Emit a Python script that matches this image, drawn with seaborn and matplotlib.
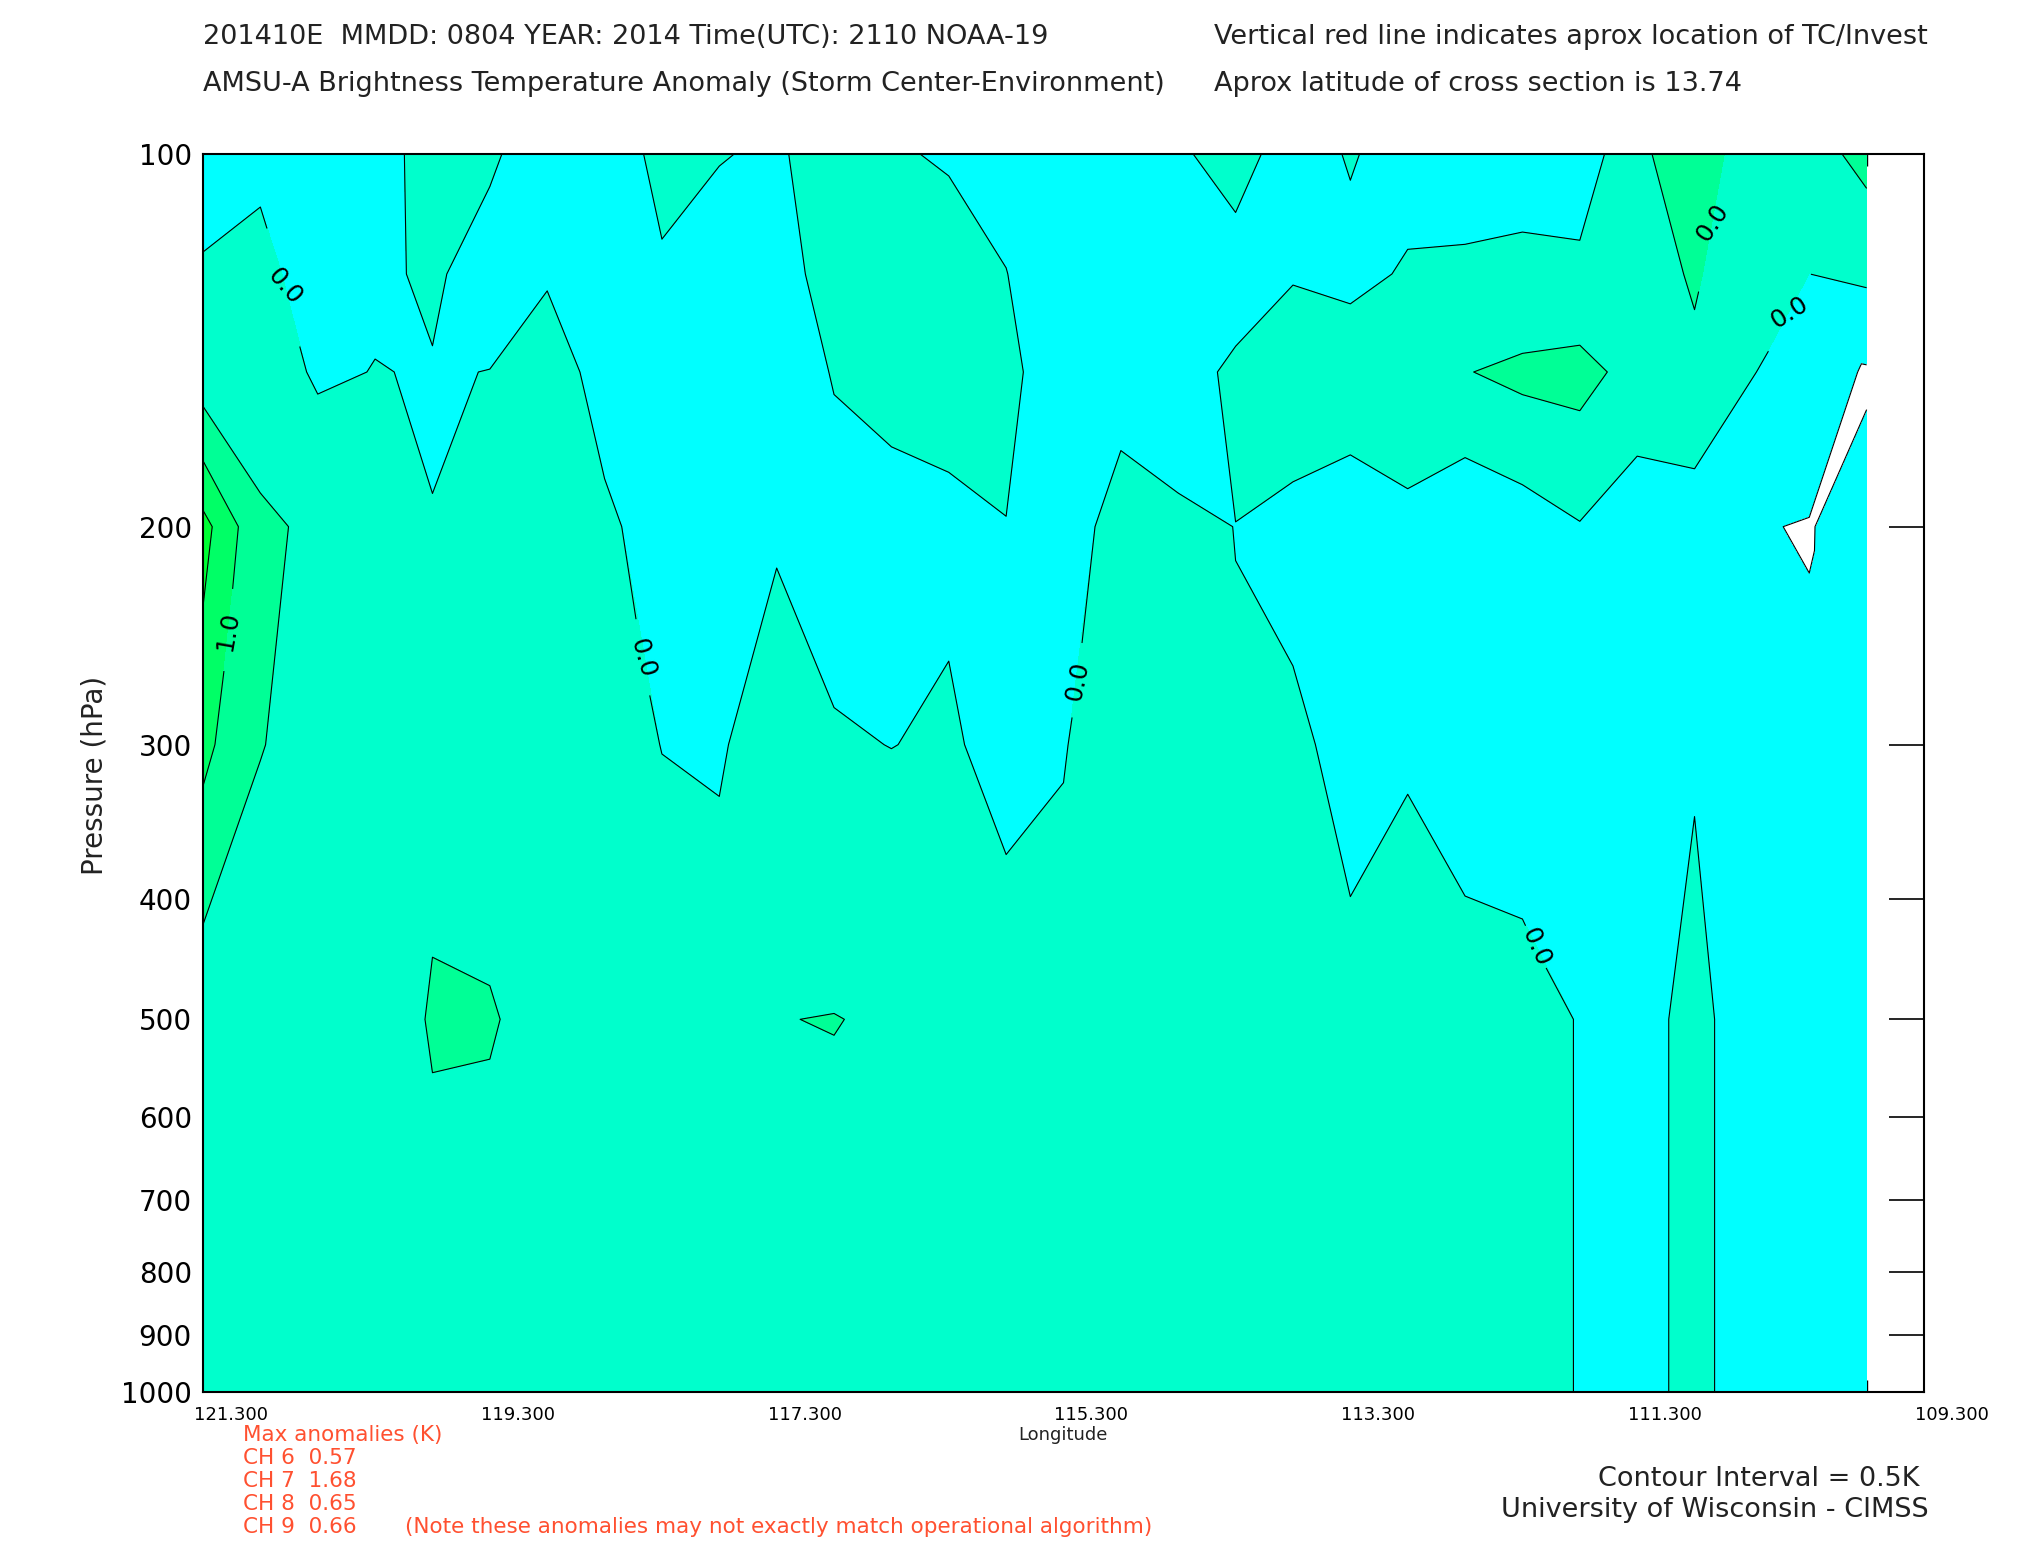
import numpy as np
import matplotlib
matplotlib.use("Agg")
import matplotlib.pyplot as plt
import matplotlib.tri as mtri
from matplotlib.ticker import FixedLocator, FixedFormatter, NullLocator
from matplotlib.transforms import ScaledTranslation
import seaborn as sns

# ---------------- data ----------------
lons = [121.3, 120.9, 120.5, 120.1, 119.7, 119.3, 118.9, 118.5, 118.1, 117.7,
        117.3, 116.9, 116.5, 116.1, 115.7, 115.3, 114.9, 114.5, 114.1, 113.7,
        113.3, 112.9, 112.5, 112.1, 111.7, 111.3, 110.9, 110.5, 110.1, 109.7]
plevs = [100, 125, 150, 200, 300, 500, 700, 1000]

anom_100 = [-0.14, -0.085, -0.15, -0.1, 0.096, 0.05, -0.188, -0.2, 0.094, 0.02,
            -0.057, 0.214, 0.02, -0.02, -0.1, -0.25, -0.2, -0.05, 0.142, -0.174,
            0.03, -0.157, -0.15, -0.1, -0.3, 0.395, 0.8, 0.223, 0.3, 0.65]
anom_125 = [0.035, 0.12, -0.2, -0.06, 0.05, -0.15, -0.02, -0.15, -0.043, -0.2,
            -0.15, 0.15, 0.2, 0.1, 0.006, -0.2, -0.2, -0.15, -0.167, -0.02,
            -0.12, 0.0453, 0.055, 0.06, 0.131, 0.3, 0.547, 0.21, -0.001, 0.082]
anom_150 = [0.21, 0.25, -0.06, 0.01, -0.02, 0.005, 0.105, -0.079, -0.15, -0.25,
            -0.2, 0.02, 0.06, 0.08, 0.06, -0.14, -0.11, -0.14, 0.065, 0.172,
            0.3, 0.2, 0.48, 0.613, 0.652, 0.335, 0.41, 0.0198, -0.23, -0.55]
anom_200 = [1.676, 0.58, 0.417, 0.2, 0.0063, 0.25, 0.25, 0.041, -0.096, -0.25,
            -0.05, -0.136, -0.074, -0.05, -0.005, -0.15, 0.123, 0.0447, -0.0024, -0.081,
            -0.3, -0.075, -0.447, -0.263, -0.027, -0.324, -0.283, -0.476, -0.52, -0.32]
anom_300 = [1.126, 0.52, 0.3, 0.28, 0.42, 0.22, 0.3, 0.25, -0.01, -0.05,
            0.2625, 0.034, -0.005, 0.038, -0.1, -0.03, 0.345, 0.3, 0.016, 0.056,
            -0.087, -0.05, -0.1, -0.27, -0.25, -0.2, -0.05, -0.3, -0.409, -0.3]
anom_500 = [0.076, 0.076, 0.25, 0.3, 0.53, 0.55, 0.272, 0.25, 0.37, 0.28,
            0.491, 0.513, 0.441, 0.4, 0.194, 0.243, 0.35, 0.35, 0.3, 0.3,
            0.0906, 0.295, 0.105, 0.2, -0.025, -0.224, 0.183, -0.34, -0.3, -0.3]
anom_700 = [0.15, 0.2, 0.2, 0.25, 0.415, 0.29, 0.25, 0.25, 0.3, 0.28,
            0.3, 0.34, 0.35, 0.35, 0.3, 0.3, 0.3, 0.3, 0.3, 0.3,
            0.15, 0.3, 0.2, 0.2, -0.025, -0.224, 0.183, -0.34, -0.3, -0.3]
anom_1000 = [0.15, 0.2, 0.2, 0.25, 0.4, 0.3, 0.25, 0.25, 0.3, 0.28,
             0.3, 0.35, 0.35, 0.35, 0.3, 0.3, 0.3, 0.3, 0.3, 0.3,
             0.15, 0.3, 0.2, 0.2, -0.025, -0.224, 0.183, -0.34, -0.3, -0.3]

ptick_vals = [100, 200, 300, 400, 500, 600, 700, 800, 900, 1000]
ptick_labels = ["100", "200", "300", "400", "500", "600", "700", "800", "900", "1000"]
lon_major = [121.3, 119.3, 117.3, 115.3, 113.3, 111.3, 109.3]
lon_major_labels = ["121.300", "119.300", "117.300", "115.300", "113.300", "111.300", "109.300"]

channels = ["CH 6", "CH 7", "CH 8", "CH 9"]
max_anoms = [0.57, 1.68, 0.65, 0.66]

label_pos = [(120.73, 128), (118.18, 254), (115.24, 266), (110.80, 111.7),
             (110.24, 133.8), (111.98, 436), (121.18, 242)]

# ---------------- style ----------------
sns.set_theme(style="white")
plt.rcParams["font.family"] = ["DejaVu Sans"]
plt.rcParams.update({"axes.edgecolor": "black", "xtick.color": "black",
                     "ytick.color": "black", "text.color": "black",
                     "axes.labelcolor": "black",
                     "contour.negative_linestyle": "solid"})

fill_levels = [-0.5, 0.0, 0.5, 1.0, 1.5, 2.0]
fill_colors = ["#00ffff", "#00ffcc", "#00ff96", "#00ff66", "#00ff33"]

fig = plt.figure(figsize=(20.25, 15.5), dpi=100)
ax = fig.add_axes([203 / 2025, 1 - 1392 / 1550, (1924 - 203) / 2025, (1392 - 154) / 1550])
ax.set_facecolor("white")

Z = np.array([anom_100, anom_125, anom_150, anom_200, anom_300, anom_500, anom_700, anom_1000])
X, Y = np.meshgrid(lons, plevs)

ax.contourf(X, Y, Z, levels=fill_levels, colors=fill_colors, zorder=1)

# triangulated field for the -0.5 (white) band, diagonal through lower pair
nx, ny = len(lons), len(plevs)
Zf = Z.ravel()
triangles = []
for j in range(ny - 1):
    for i in range(nx - 1):
        a = j * nx + i
        b = j * nx + i + 1
        c = (j + 1) * nx + i
        d = (j + 1) * nx + i + 1
        if Zf[a] + Zf[d] <= Zf[b] + Zf[c]:
            triangles += [[a, b, d], [a, d, c]]
        else:
            triangles += [[a, b, c], [b, d, c]]
tri = mtri.Triangulation(X.ravel(), Y.ravel(), np.array(triangles))
ax.tricontourf(tri, Zf, levels=[-5.0, -0.5], colors=["white"], zorder=1.5)
ax.tricontour(tri, Zf, levels=[-0.5], colors="black", linewidths=0.8,
              linestyles="solid", zorder=2)

cs = ax.contour(X, Y, Z, levels=[0.0, 0.5, 1.0, 1.5], colors="black", linewidths=0.8,
                linestyles="solid", zorder=2)
ax.clabel(cs, levels=[0.0, 0.5, 1.0], manual=label_pos, inline=True, inline_spacing=6,
          fmt={0.0: "0.0", 0.5: "0.0", 1.0: "1.0"}, fontsize=18, colors="black")

# ---------------- axes ----------------
ax.set_yscale("log")
ax.set_ylim(1000, 100)
ax.set_xlim(121.3, 109.3)
ax.yaxis.set_major_locator(FixedLocator(ptick_vals))
ax.yaxis.set_major_formatter(FixedFormatter(ptick_labels))
ax.yaxis.set_minor_locator(NullLocator())
ax.xaxis.set_major_locator(FixedLocator(lon_major))
ax.xaxis.set_major_formatter(FixedFormatter(lon_major_labels))
ax.xaxis.set_minor_locator(FixedLocator(lons + [109.3]))
ax.tick_params(axis="x", which="major", direction="in", length=18, width=1.2,
               top=True, bottom=True, labelsize=13, pad=10)
ax.tick_params(axis="x", which="minor", direction="in", length=8.5, width=1.0,
               top=True, bottom=True)
ax.tick_params(axis="y", which="major", direction="in", length=25, width=1.2,
               left=True, right=True, labelsize=20, pad=8)
shift = ScaledTranslation(0.28, 0, fig.dpi_scale_trans)
for lab in ax.get_xticklabels():
    lab.set_transform(lab.get_transform() + shift)
for s in ax.spines.values():
    s.set_linewidth(1.5)
    s.set_color("black")
    s.set_zorder(5)

# ---------------- texts ----------------
tc = "#222222"
fig.text(203 / 2025, 1 - 37.5 / 1550, "201410E  MMDD: 0804 YEAR: 2014 Time(UTC): 2110 NOAA-19",
         fontsize=19.5, ha="left", va="center", color=tc)
fig.text(1214 / 2025, 1 - 37.5 / 1550, "Vertical red line indicates aprox location of TC/Invest",
         fontsize=19.5, ha="left", va="center", color=tc)
fig.text(203 / 2025, 1 - 84 / 1550, "AMSU-A Brightness Temperature Anomaly (Storm Center-Environment)",
         fontsize=19.5, ha="left", va="center", color=tc)
fig.text(1214 / 2025, 1 - 84 / 1550, "Aprox latitude of cross section is 13.74",
         fontsize=19.5, ha="left", va="center", color=tc)
fig.text(94 / 2025, 1 - 775 / 1550, "Pressure (hPa)", rotation=90, fontsize=20,
         ha="center", va="center", color=tc)
fig.text(1063 / 2025, 1 - 1435 / 1550, "Longitude", fontsize=13, ha="center", va="center", color=tc)

red = "#ff5030"
fig.text(243 / 2025, 1 - 1435 / 1550, "Max anomalies (K)", fontsize=15.5, ha="left", va="center", color=red)
for k, (ch, v) in enumerate(zip(channels, max_anoms)):
    fig.text(243 / 2025, 1 - (1458 + 23 * k) / 1550, f"{ch}  {v:.2f}", fontsize=15.5,
             ha="left", va="center", color=red)
fig.text(405 / 2025, 1 - 1527 / 1550,
         "(Note these anomalies may not exactly match operational algorithm)",
         fontsize=15.5, ha="left", va="center", color=red)
fig.text(1919 / 2025, 1 - 1479 / 1550, "Contour Interval = 0.5K", fontsize=19.5,
         ha="right", va="center", color=tc)
fig.text(1929 / 2025, 1 - 1510 / 1550, "University of Wisconsin - CIMSS", fontsize=19.5,
         ha="right", va="center", color=tc)

fig.savefig("out.png", dpi=100)
